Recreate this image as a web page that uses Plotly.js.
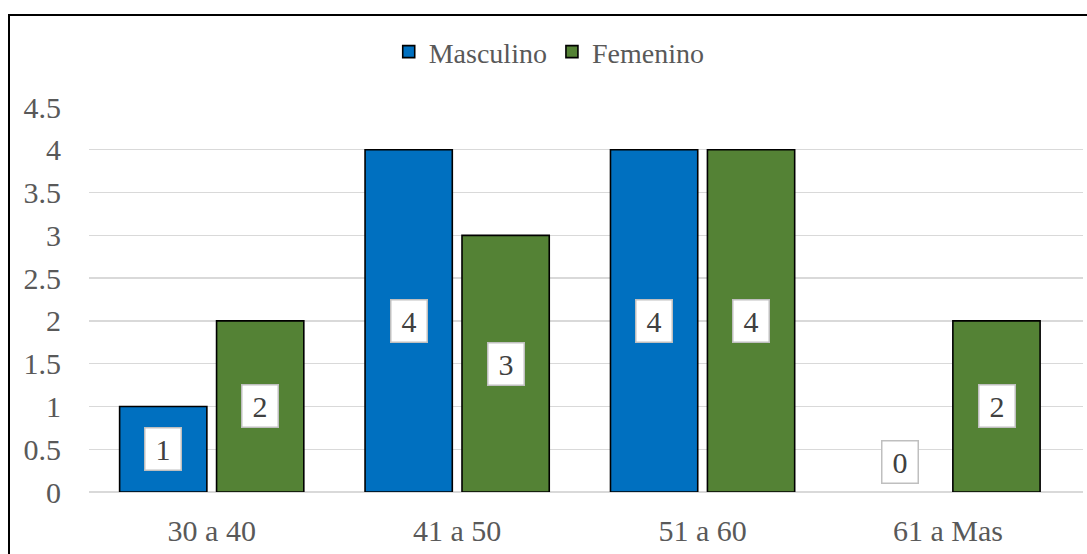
<!DOCTYPE html>
<html><head><meta charset="utf-8">
<script src="https://cdn.plot.ly/plotly-3.0.1.min.js"></script>
<style>
body{margin:0;overflow:hidden;background:#fff}
#chart{width:1087px;height:554px;position:absolute;left:0;top:0}
#frame{position:absolute;left:8px;top:14px;width:1200px;height:700px;border:2px solid #000;pointer-events:none}
</style></head>
<body>
<div id="chart"></div>
<div id="frame"></div>
<script>
const categories = ["30 a 40", "41 a 50", "51 a 60", "61 a Mas"];
const masculino = [1, 4, 4, 0];
const femenino = [2, 3, 4, 2];
const seriesNames = ["Masculino", "Femenino"];
const colors = ["#0070C0", "#548235"];
const FONT = "'Liberation Serif', 'Times New Roman', serif";

const traces = [masculino, femenino].map((vals, i) => ({
  type: "bar", name: seriesNames[i], x: categories, y: vals,
  marker: {color: colors[i], line: {color: "#000", width: vals.map(v => v > 0 ? 1.6 : 0)}},
  hoverinfo: "none"
}));

const annotations = [];
[masculino, femenino].forEach((vals, s) => {
  vals.forEach((v, j) => {
    const a = {
      x: categories[j], y: v > 0 ? v / 2 : 0, xref: "x", yref: "y",
      text: "\u2009" + String(v) + "\u2009", showarrow: false,
      xshift: s === 0 ? -48.5 : 48.5,
      font: {family: FONT, size: 30, color: "#404040"},
      bgcolor: "#fff", bordercolor: "#BFBFBF", borderwidth: 1.5, borderpad: 4,
      yanchor: v > 0 ? "middle" : "bottom"
    };
    if (v === 0) a.yshift = 8;
    annotations.push(a);
  });
});

const layout = {
  width: 1087, height: 554,
  margin: {l: 89, r: 4, t: 107, b: 62},
  paper_bgcolor: "#fff", plot_bgcolor: "#fff",
  font: {family: FONT, size: 28, color: "#595959"},
  barmode: "group", bargap: 0.21, bargroupgap: 0.1,
  showlegend: true,
  legend: {orientation: "h", x: 0.463, xanchor: "center", y: 1.143, yanchor: "middle",
           font: {family: FONT, size: 28, color: "#595959"}, itemwidth: 30, traceorder: "normal"},
  xaxis: {type: "category", range: [-0.5, 3.55], showgrid: false, showline: false, zeroline: false, ticks: "",
          tickfont: {family: FONT, size: 30, color: "#595959"}, ticklabelstandoff: 18, fixedrange: true},
  yaxis: {range: [0, 4.5], dtick: 0.5, tick0: 0, showgrid: true, gridcolor: "#D9D9D9", gridwidth: 1.3,
          zeroline: true, zerolinecolor: "#D9D9D9", zerolinewidth: 1.5, showline: false, ticks: "",
          tickfont: {family: FONT, size: 30, color: "#595959"}, ticklabelstandoff: 27, fixedrange: true},
  annotations: annotations
};
Plotly.newPlot("chart", traces, layout, {displayModeBar: false, staticPlot: true});
</script>
</body></html>
